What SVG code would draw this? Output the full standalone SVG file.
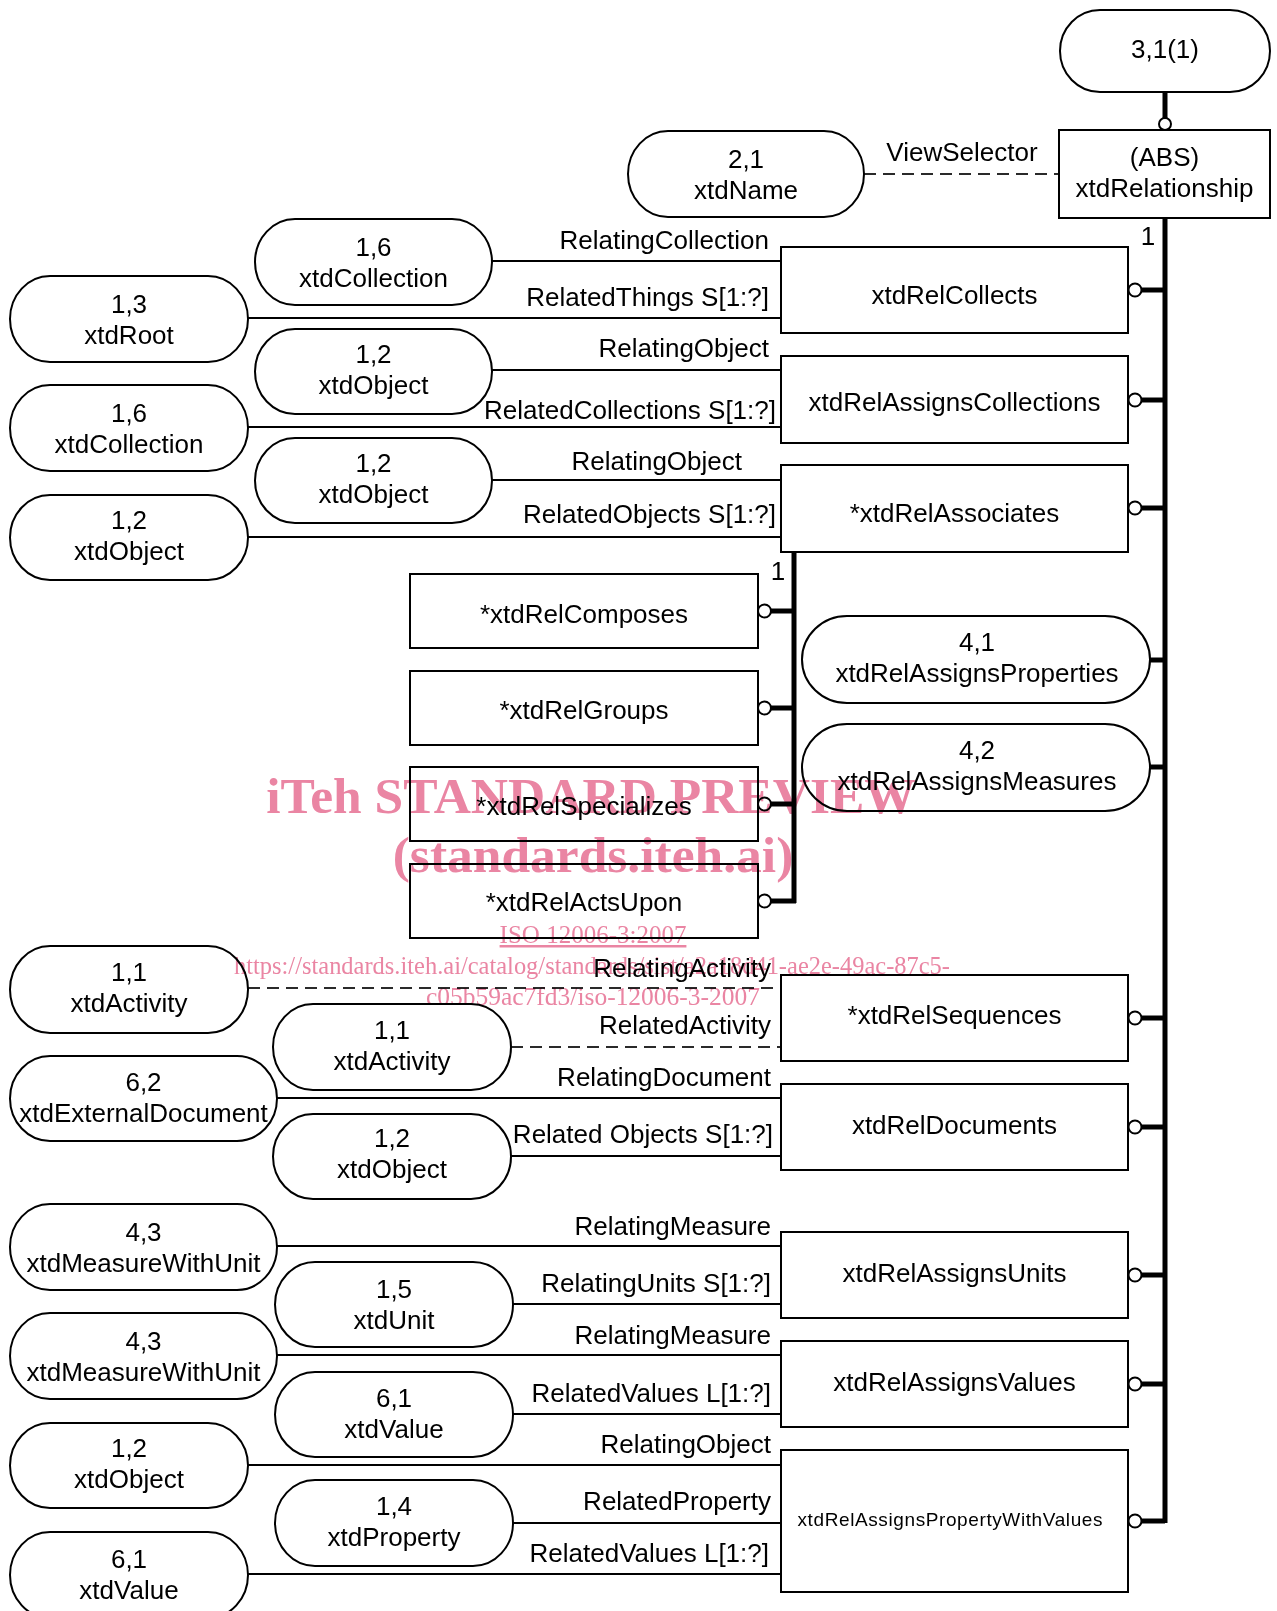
<svg xmlns="http://www.w3.org/2000/svg" width="1277" height="1611" viewBox="0 0 1277 1611">
<style>
.bx{fill:none;stroke:#000;stroke-width:2}
.st{fill:none;stroke:#000;stroke-width:2}
.ln{stroke:#000;stroke-width:2;fill:none}
.ds{stroke:#2a2a2a;stroke-width:2;stroke-dasharray:12 7;fill:none}
.tk{stroke:#000;stroke-width:5;fill:none}
.ci{fill:#fff;stroke:#000;stroke-width:2}
text{font-family:"Liberation Sans",Arial,sans-serif;font-size:26px;fill:#000}
.c{text-anchor:middle}
.r{text-anchor:end}
.wm{font-family:"Liberation Serif","Times New Roman",serif;fill:#ea85a3}
.wb{font-weight:bold;font-size:51.5px}
.wmg{mix-blend-mode:multiply}
</style>
<rect x="0" y="0" width="1277" height="1611" fill="#fff"/>

<g id="connectors">
  <line class="tk" x1="1165" y1="92" x2="1165" y2="118"/>
  <circle class="ci" cx="1165" cy="124" r="6"/>
  <line class="ds" x1="864" y1="174" x2="1059" y2="174"/>
  <text class="c" x="962" y="161">ViewSelector</text>
  <line class="tk" x1="1165" y1="218" x2="1165" y2="1523"/>
  <text class="c" x="1148" y="245">1</text>
  <line class="tk" x1="1141" y1="290" x2="1165" y2="290"/><circle class="ci" cx="1135" cy="290" r="6.5"/>
  <line class="tk" x1="1141" y1="400" x2="1165" y2="400"/><circle class="ci" cx="1135" cy="400" r="6.5"/>
  <line class="tk" x1="1141" y1="508" x2="1165" y2="508"/><circle class="ci" cx="1135" cy="508" r="6.5"/>
  <line class="tk" x1="1141" y1="1018" x2="1165" y2="1018"/><circle class="ci" cx="1135" cy="1018" r="6.5"/>
  <line class="tk" x1="1141" y1="1127" x2="1165" y2="1127"/><circle class="ci" cx="1135" cy="1127" r="6.5"/>
  <line class="tk" x1="1141" y1="1275" x2="1165" y2="1275"/><circle class="ci" cx="1135" cy="1275" r="6.5"/>
  <line class="tk" x1="1141" y1="1384" x2="1165" y2="1384"/><circle class="ci" cx="1135" cy="1384" r="6.5"/>
  <line class="tk" x1="1141" y1="1521" x2="1165" y2="1521"/><circle class="ci" cx="1135" cy="1521" r="6.5"/>
  <line class="tk" x1="1150" y1="660" x2="1165" y2="660"/>
  <line class="tk" x1="1150" y1="767" x2="1165" y2="767"/>
  <line class="tk" x1="794" y1="552" x2="794" y2="903"/>
  <text class="c" x="778" y="580">1</text>
  <line class="tk" x1="771" y1="611" x2="794" y2="611"/><circle class="ci" cx="764.5" cy="611" r="6.5"/>
  <line class="tk" x1="771" y1="708" x2="794" y2="708"/><circle class="ci" cx="764.5" cy="708" r="6.5"/>
  <line class="tk" x1="771" y1="804" x2="794" y2="804"/><circle class="ci" cx="764.5" cy="804" r="6.5"/>
  <line class="tk" x1="771" y1="901" x2="796" y2="901"/><circle class="ci" cx="764.5" cy="901" r="6.5"/>
  <line class="ln" x1="492" y1="261" x2="781" y2="261"/><text class="r" x="769" y="249">RelatingCollection</text>
  <line class="ln" x1="248" y1="318" x2="781" y2="318"/><text class="r" x="769" y="306">RelatedThings S[1:?]</text>
  <line class="ln" x1="492" y1="370" x2="781" y2="370"/><text class="r" x="769" y="357">RelatingObject</text>
  <line class="ln" x1="248" y1="427" x2="781" y2="427"/><text class="r" x="776" y="419">RelatedCollections S[1:?]</text>
  <line class="ln" x1="492" y1="480" x2="781" y2="480"/><text class="r" x="742" y="470">RelatingObject</text>
  <line class="ln" x1="248" y1="537" x2="781" y2="537"/><text class="r" x="776" y="523">RelatedObjects S[1:?]</text>
  <line class="ds" x1="248" y1="988" x2="781" y2="988"/><text class="r" x="771" y="977">RelatingActivity</text>
  <line class="ds" x1="511" y1="1047" x2="781" y2="1047"/><text class="r" x="771" y="1034">RelatedActivity</text>
  <line class="ln" x1="277" y1="1098" x2="781" y2="1098"/><text class="r" x="771" y="1086">RelatingDocument</text>
  <line class="ln" x1="511" y1="1156" x2="781" y2="1156"/><text class="r" x="773" y="1143">Related Objects S[1:?]</text>
  <line class="ln" x1="277" y1="1246" x2="781" y2="1246"/><text class="r" x="771" y="1235">RelatingMeasure</text>
  <line class="ln" x1="513" y1="1304" x2="781" y2="1304"/><text class="r" x="771" y="1292">RelatingUnits S[1:?]</text>
  <line class="ln" x1="277" y1="1355" x2="781" y2="1355"/><text class="r" x="771" y="1344">RelatingMeasure</text>
  <line class="ln" x1="513" y1="1414" x2="781" y2="1414"/><text class="r" x="771" y="1402">RelatedValues L[1:?]</text>
  <line class="ln" x1="248" y1="1465" x2="781" y2="1465"/><text class="r" x="771" y="1453">RelatingObject</text>
  <line class="ln" x1="513" y1="1523" x2="781" y2="1523"/><text class="r" x="771" y="1510">RelatedProperty</text>
  <line class="ln" x1="248" y1="1574" x2="781" y2="1574"/><text class="r" x="769" y="1562">RelatedValues L[1:?]</text>
</g>

<g id="n31"><rect class="st" x="1060" y="10" width="210" height="82" rx="40" ry="41"/><text class="c" x="1165" y="58">3,1(1)</text></g>
<g id="nRelationship"><rect class="bx" x="1059" y="130" width="211" height="88"/><text class="c" x="1164.5" y="166">(ABS)</text><text class="c" x="1164.5" y="197">xtdRelationship</text></g>
<g id="nName"><rect class="st" x="628" y="131" width="236" height="86" rx="40" ry="43"/><text class="c" x="746" y="168">2,1</text><text class="c" x="746" y="199">xtdName</text></g>

<g id="nRelCollects"><rect class="bx" x="781" y="247" width="347" height="86"/><text class="c" x="954.5" y="304">xtdRelCollects</text></g>
<g id="nCollection1"><rect class="st" x="255" y="219" width="237" height="86" rx="40" ry="43"/><text class="c" x="373.5" y="256">1,6</text><text class="c" x="373.5" y="287">xtdCollection</text></g>
<g id="nRoot"><rect class="st" x="10" y="276" width="238" height="86" rx="40" ry="43"/><text class="c" x="129" y="313">1,3</text><text class="c" x="129" y="344">xtdRoot</text></g>

<g id="nRelAssignsCollections"><rect class="bx" x="781" y="356" width="347" height="87"/><text class="c" x="954.5" y="411">xtdRelAssignsCollections</text></g>
<g id="nObject1"><rect class="st" x="255" y="329" width="237" height="85" rx="40" ry="42.5"/><text class="c" x="373.5" y="363">1,2</text><text class="c" x="373.5" y="394">xtdObject</text></g>
<g id="nCollection2"><rect class="st" x="10" y="385" width="238" height="86" rx="40" ry="43"/><text class="c" x="129" y="422">1,6</text><text class="c" x="129" y="453">xtdCollection</text></g>

<g id="nRelAssociates"><rect class="bx" x="781" y="465" width="347" height="87"/><text class="c" x="954.5" y="522">*xtdRelAssociates</text></g>
<g id="nObject2"><rect class="st" x="255" y="438" width="237" height="85" rx="40" ry="42.5"/><text class="c" x="373.5" y="472">1,2</text><text class="c" x="373.5" y="503">xtdObject</text></g>
<g id="nObject3"><rect class="st" x="10" y="495" width="238" height="85" rx="40" ry="42.5"/><text class="c" x="129" y="529">1,2</text><text class="c" x="129" y="560">xtdObject</text></g>

<g id="nRelComposes"><rect class="bx" x="410" y="574" width="348" height="74"/><text class="c" x="584" y="623">*xtdRelComposes</text></g>
<g id="nRelGroups"><rect class="bx" x="410" y="671" width="348" height="74"/><text class="c" x="584" y="719">*xtdRelGroups</text></g>
<g id="nRelSpecializes"><rect class="bx" x="410" y="767" width="348" height="74"/><text class="c" x="584" y="815">*xtdRelSpecializes</text></g>
<g id="nRelActsUpon"><rect class="bx" x="410" y="864" width="348" height="74"/><text class="c" x="584" y="911">*xtdRelActsUpon</text></g>

<g id="nRelAssignsProperties"><rect class="st" x="802" y="616" width="348" height="87" rx="45" ry="43.5"/><text class="c" x="977" y="651">4,1</text><text class="c" x="977" y="682">xtdRelAssignsProperties</text></g>
<g id="nRelAssignsMeasures"><rect class="st" x="802" y="724" width="348" height="87" rx="45" ry="43.5"/><text class="c" x="977" y="759">4,2</text><text class="c" x="977" y="790">xtdRelAssignsMeasures</text></g>

<g id="nRelSequences"><rect class="bx" x="781" y="975" width="347" height="86"/><text class="c" x="954.5" y="1024">*xtdRelSequences</text></g>
<g id="nActivity1"><rect class="st" x="10" y="946" width="238" height="87" rx="40" ry="43.5"/><text class="c" x="129" y="981">1,1</text><text class="c" x="129" y="1012">xtdActivity</text></g>
<g id="nActivity2"><rect class="st" x="273" y="1004" width="238" height="86" rx="40" ry="43"/><text class="c" x="392" y="1039">1,1</text><text class="c" x="392" y="1070">xtdActivity</text></g>

<g id="nRelDocuments"><rect class="bx" x="781" y="1084" width="347" height="86"/><text class="c" x="954.5" y="1134">xtdRelDocuments</text></g>
<g id="nExternalDocument"><rect class="st" x="10" y="1056" width="267" height="85" rx="40" ry="42.5"/><text class="c" x="143.5" y="1091">6,2</text><text class="c" x="143.5" y="1122">xtdExternalDocument</text></g>
<g id="nObject4"><rect class="st" x="273" y="1114" width="238" height="85" rx="40" ry="42.5"/><text class="c" x="392" y="1147">1,2</text><text class="c" x="392" y="1178">xtdObject</text></g>

<g id="nRelAssignsUnits"><rect class="bx" x="781" y="1232" width="347" height="86"/><text class="c" x="954.5" y="1282">xtdRelAssignsUnits</text></g>
<g id="nMeasure1"><rect class="st" x="10" y="1204" width="267" height="86" rx="40" ry="43"/><text class="c" x="143.5" y="1241">4,3</text><text class="c" x="143.5" y="1272">xtdMeasureWithUnit</text></g>
<g id="nUnit"><rect class="st" x="275" y="1262" width="238" height="85" rx="40" ry="42.5"/><text class="c" x="394" y="1298">1,5</text><text class="c" x="394" y="1329">xtdUnit</text></g>

<g id="nRelAssignsValues"><rect class="bx" x="781" y="1341" width="347" height="86"/><text class="c" x="954.5" y="1391">xtdRelAssignsValues</text></g>
<g id="nMeasure2"><rect class="st" x="10" y="1313" width="267" height="86" rx="40" ry="43"/><text class="c" x="143.5" y="1350">4,3</text><text class="c" x="143.5" y="1381">xtdMeasureWithUnit</text></g>
<g id="nValue1"><rect class="st" x="275" y="1372" width="238" height="85" rx="40" ry="42.5"/><text class="c" x="394" y="1407">6,1</text><text class="c" x="394" y="1438">xtdValue</text></g>

<g id="nRelAssignsPropertyWithValues"><rect class="bx" x="781" y="1450" width="347" height="142"/><text class="c" x="950" y="1526" style="font-size:19px" textLength="305" lengthAdjust="spacing">xtdRelAssignsPropertyWithValues</text></g>
<g id="nObject5"><rect class="st" x="10" y="1423" width="238" height="85" rx="40" ry="42.5"/><text class="c" x="129" y="1457">1,2</text><text class="c" x="129" y="1488">xtdObject</text></g>
<g id="nProperty"><rect class="st" x="275" y="1480" width="238" height="86" rx="40" ry="43"/><text class="c" x="394" y="1515">1,4</text><text class="c" x="394" y="1546">xtdProperty</text></g>
<g id="nValue2"><rect class="st" x="10" y="1532" width="238" height="86" rx="40" ry="43"/><text class="c" x="129" y="1568">6,1</text><text class="c" x="129" y="1599">xtdValue</text></g>

<g id="watermark" class="wmg">
  <text class="wm wb c" x="591" y="813">iTeh STANDARD PREVIEW</text>
  <text class="wm wb c" x="593" y="872">(standards.iteh.ai)</text>
  <text class="wm c" x="593" y="943" style="font-size:25px;text-decoration:underline">ISO 12006-3:2007</text>
  <text class="wm" x="234" y="974" style="font-size:25px" textLength="716" lengthAdjust="spacingAndGlyphs">https://standards.iteh.ai/catalog/standards/sist/a2a18d41-ae2e-49ac-87c5-</text>
  <text class="wm c" x="593" y="1005" style="font-size:25px" textLength="334" lengthAdjust="spacingAndGlyphs">c05b59ac7fd3/iso-12006-3-2007</text>
</g>
</svg>
